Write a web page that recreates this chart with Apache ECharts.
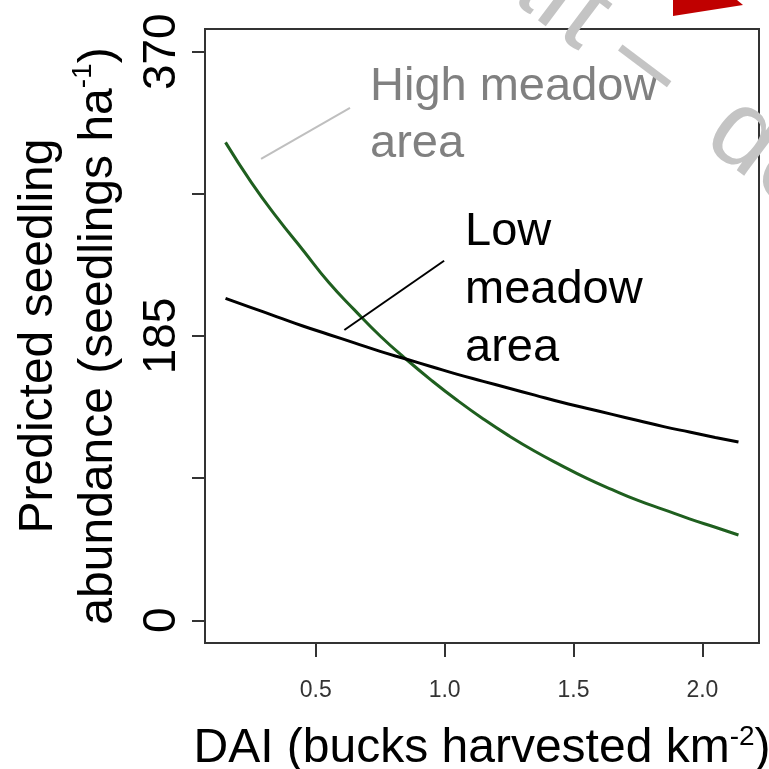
<!DOCTYPE html>
<html>
<head>
<meta charset="utf-8">
<script src="https://cdn.jsdelivr.net/npm/echarts@6/dist/echarts.min.js"></script>
<style>
html,body{margin:0;padding:0;background:#fff;}
#chart{width:769px;height:769px;}
</style>
</head>
<body>
<div id="chart"></div>
<script>
// DAI values (bucks harvested km^-2)
var daiValues = [0.15, 0.25, 0.35, 0.45, 0.55, 0.65, 0.75, 0.85, 0.95, 1.05, 1.15, 1.25, 1.35, 1.45, 1.55, 1.65, 1.75, 1.85, 1.95, 2.05, 2.14];
// Predicted seedlings, high meadow area (green)
var highMeadow = [311, 285, 262, 241, 220, 202, 185, 170, 156, 143, 131, 120, 110, 101, 92.5, 85, 78, 72, 66, 60.5, 55.5];
// Predicted seedlings, low meadow area (black)
var lowMeadow = [209.5, 203.5, 197.5, 191.5, 186, 180.5, 175, 170, 165, 160, 155.5, 151, 146.5, 142, 138, 134, 130, 126, 122.5, 119, 116];
// tick values
var xTicks = [0.5, 1.0, 1.5, 2.0];
var yTicks = [0, 92.5, 185, 277.5, 370];
var yTickLabels = [0, 185, 370];
// annotation leader lines [x, y] in data units
var highLeader = [[0.288, 300.2], [0.633, 333.4]];
var lowLeader = [[0.611, 188.9], [0.998, 234.0]];

function pairs(xs, ys) { return xs.map(function (x, i) { return [x, ys[i]]; }); }

var FONT = '"Liberation Sans", Arial, sans-serif';
var chart = echarts.init(document.getElementById('chart'));
chart.setOption({
  animation: false,
  backgroundColor: '#fff',
  grid: { left: 205, top: 29, right: 10, bottom: 126, show: true, borderColor: '#333', borderWidth: 2,
    backgroundColor: 'transparent', containLabel: false, outerBoundsMode: 'none' },
  xAxis: {
    type: 'value', min: 0.0704, max: 2.2196,
    splitLine: { show: false },
    axisLine: { show: false, onZero: false },
    axisTick: { show: true, length: 14, lineStyle: { color: '#333', width: 2 }, customValues: xTicks },
    axisLabel: { customValues: xTicks, fontFamily: FONT, fontSize: 23, color: '#333', margin: 36,
      formatter: function (v) { return v.toFixed(1); } },
    name: 'DAI (bucks harvested km{sup|-2})',
    nameLocation: 'middle', nameGap: 80,
    nameTextStyle: { fontFamily: FONT, fontSize: 48, color: '#000',
      rich: { sup: { fontFamily: FONT, fontSize: 28, color: '#000', verticalAlign: 'top', padding: [0, 0, 24, 0] } } }
  },
  yAxis: {
    type: 'value', min: -14.8, max: 384.8,
    splitLine: { show: false },
    axisLine: { show: false, onZero: false },
    axisTick: { show: true, length: 13, lineStyle: { color: '#333', width: 2 }, customValues: yTicks },
    axisLabel: { customValues: yTickLabels, rotate: 90, fontFamily: FONT, fontSize: 46, color: '#000', margin: 20 },
    name: 'Predicted seedling\nabundance (seedlings ha{sup|-1})',
    nameLocation: 'middle', nameRotate: 90, nameGap: 76,
    nameTextStyle: { fontFamily: FONT, fontSize: 48, color: '#000', lineHeight: 60,
      rich: { sup: { fontFamily: FONT, fontSize: 28, color: '#000', lineHeight: 60, verticalAlign: 'top', padding: [0, 0, 24, 0] } } }
  },
  series: [
    { name: 'High meadow area', type: 'line', data: pairs(daiValues, highMeadow), smooth: true, symbol: 'none',
      lineStyle: { color: '#1f5f1f', width: 3 } ,
      markLine: { silent: true, symbol: 'none', label: { show: false },
        lineStyle: { color: '#bfbfbf', width: 2, type: 'solid' },
        data: [[{ coord: highLeader[0] }, { coord: highLeader[1] }]] } },
    { name: 'Low meadow area', type: 'line', data: pairs(daiValues, lowMeadow), smooth: true, symbol: 'none',
      lineStyle: { color: '#000', width: 3 },
      markLine: { silent: true, symbol: 'none', label: { show: false },
        lineStyle: { color: '#000', width: 2, type: 'solid' },
        data: [[{ coord: lowLeader[0] }, { coord: lowLeader[1] }]] } }
  ],
  graphic: [
    { type: 'text', left: 370, top: 59, style: { text: 'High meadow\narea', font: '47px ' + FONT, fill: '#808080', lineHeight: 57 } },
    { type: 'text', left: 465, top: 203, style: { text: 'Low\nmeadow\narea', font: '47px ' + FONT, fill: '#000', lineHeight: 58 } },
    { type: 'text', x: 387, y: -90, rotation: -37 * Math.PI / 180, z: 100,
      style: { text: 'Draft \u2013  do not cite', x: 0, y: 22, align: 'left', verticalAlign: 'bottom',
        font: '110px ' + FONT, fill: '#c4c4c4',
        shadowColor: 'rgba(0,0,0,0.35)', shadowBlur: 4, shadowOffsetX: 2, shadowOffsetY: 2 } },
    { type: 'polygon', z: 100, shape: { points: [[673, 0], [737, 0], [743, 5], [673, 16]] }, style: { fill: '#c00000' } }
  ]
});
</script>
</body>
</html>
